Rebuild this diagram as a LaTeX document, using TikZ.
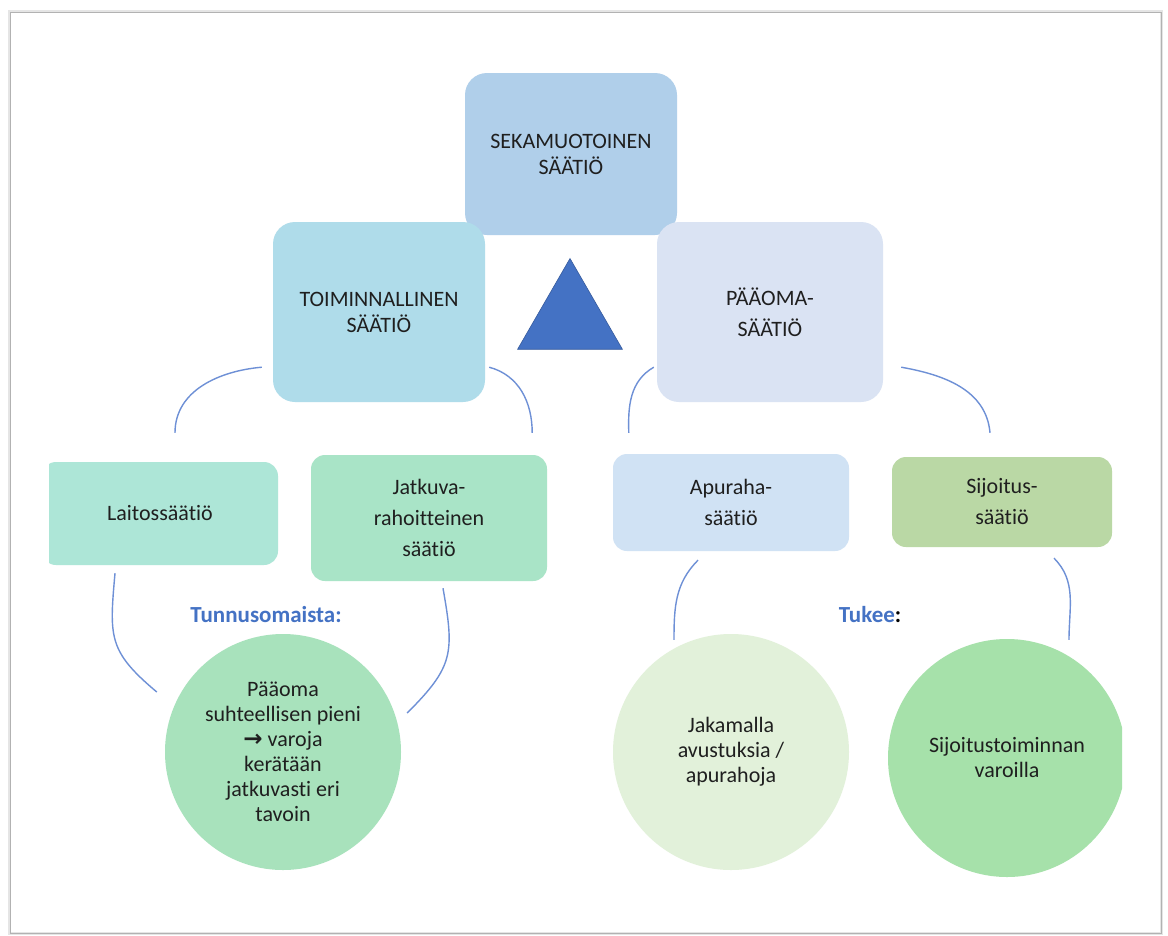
\documentclass[tikz,border=0pt]{standalone}
\usepackage{fontspec}
\setmainfont{Carlito}[Ligatures=NoCommon]
\newfontfamily\arrowfont{DejaVu Sans}
\usetikzlibrary{positioning, calc, shapes.geometric}

\definecolor{sekafill}{HTML}{B0CFEA}
\definecolor{toimfill}{HTML}{AFDCEA}
\definecolor{paaomafill}{HTML}{DAE3F3}
\definecolor{laitosfill}{HTML}{ADE6D7}
\definecolor{jatkuvafill}{HTML}{A9E4C7}
\definecolor{apurahafill}{HTML}{D0E2F4}
\definecolor{sijoitusfill}{HTML}{BAD8A5}
\definecolor{ringfill}{HTML}{A8E2BC}
\definecolor{paleringfill}{HTML}{E2F1DA}
\definecolor{greenringfill}{HTML}{A6E1AA}
\definecolor{tribl}{HTML}{4472C4}
\definecolor{linkblue}{HTML}{6E90D6}
\definecolor{tagblue}{HTML}{4472C4}

\tikzset{
    topbox/.style = {rectangle, rounded corners=22pt, align=center, inner sep=0pt, font=\fontsize{22}{26}\selectfont},
    subbox/.style = {rectangle, rounded corners=14pt, align=center, inner sep=0pt, font=\fontsize{22}{31}\selectfont},
    ball/.style = {circle, inner sep=0pt, minimum size=236pt, align=center, font=\fontsize{22}{25}\selectfont},
    tri/.style = {regular polygon, regular polygon sides=3, minimum size=121pt, inner sep=0pt, fill=tribl, draw=tribl!80!black, line width=0.6pt},
    link/.style = {draw=linkblue, line width=1.4pt},
    tag/.style = {text=tagblue, font=\fontsize{23}{27}\selectfont\bfseries}
}

\begin{document}
\begin{tikzpicture}[x=1pt, y=-1pt, every node/.style={text=black!88}]
\useasboundingbox (0,0) rectangle (1168,935);

% Screenshot frame
\draw[black!10, line width=4pt] (10,12) rectangle (1161,933);
\fill[white] (11,13) rectangle (1160,932);
\draw[black!30, line width=1pt] (10,12) rectangle (1161,933);

\begin{scope}
\clip (49,13) rectangle (1122,932);

% Top row
\node[topbox, fill=sekafill, minimum width=212pt, minimum height=162pt] (seka) at (571,154) {SEKAMUOTOINEN\\SÄÄTIÖ};
\node[topbox, fill=toimfill, minimum width=212pt, minimum height=180pt] (toim) at (379,312) {TOIMINNALLINEN\\SÄÄTIÖ};
\node[topbox, fill=paaomafill, minimum width=226pt, minimum height=180pt, font=\fontsize{22}{31}\selectfont] (paaoma) at (770,312) {PÄÄOMA-\\SÄÄTIÖ};
\node[tri] (tri) at (570,319) {};

% Middle row
\node[subbox, fill=laitosfill, minimum width=236pt, minimum height=103pt] (laitos) at (160,513.5) {Laitossäätiö};
\node[subbox, fill=jatkuvafill, minimum width=236pt, minimum height=126pt] (jatkuva) at (429,518) {Jatkuva-\\rahoitteinen\\säätiö};
\node[subbox, fill=apurahafill, minimum width=236pt, minimum height=97pt] (apuraha) at (731,502.5) {Apuraha-\\säätiö};
\node[subbox, fill=sijoitusfill, minimum width=220pt, minimum height=90pt] (sijoitus) at (1002,502) {Sijoitus-\\säätiö};

% Labels
\node[tag] (tunnus) at (266,615) {Tunnusomaista:};
\node[tag] (tukee) at (870,615) {Tukee\textcolor{black}{:}};

% Bottom row
\node[ball, fill=ringfill] (ringL) at (283,752) {Pääoma\\suhteellisen pieni\\{\arrowfont\bfseries\fontsize{23}{25}\selectfont →} varoja\\kerätään\\jatkuvasti eri\\tavoin};
\node[ball, fill=paleringfill] (jakamalla) at (731,752) {Jakamalla\\avustuksia /\\apurahoja};
\node[ball, fill=greenringfill, minimum size=238pt] (sijtoim) at (1007,758) {Sijoitustoiminnan\\varoilla};

% Arc ends
\coordinate (toimL) at ($(toim.south west)+(-11,-35)$);
\coordinate (laitosT) at ($(laitos.north)+(15,-29)$);
\coordinate (toimR) at ($(toim.south east)+(4,-35)$);
\coordinate (jatkuvaT) at ($(jatkuva.north east)+(-15,-22)$);
\coordinate (paaomaL) at ($(paaoma.south west)+(-3,-35)$);
\coordinate (apurahaT) at ($(apuraha.north west)+(16,-21)$);
\coordinate (paaomaR) at ($(paaoma.south east)+(18,-35)$);
\coordinate (sijoitusT) at ($(sijoitus.north)+(-12,-24)$);

\coordinate (laitosB) at ($(laitos.south)+(-45,8)$);
\coordinate (ringLa) at ($(ringL.west)+(-8,-60)$);
\coordinate (jatkuvaB) at ($(jatkuva.south)+(14,7)$);
\coordinate (ringLb) at ($(ringL.east)+(6,-39)$);
\coordinate (apurahaB) at ($(apuraha.south)+(-33,9)$);
\coordinate (jakamallaT) at ($(jakamalla.north)+(-57,6)$);
\coordinate (sijoitusB) at ($(sijoitus.south)+(52,11)$);
\coordinate (sijtoimT) at ($(sijtoim.north)+(62,1)$);

% Upper arcs
\draw[link] (toimL) to[out=185, in=90] (laitosT);
\draw[link] (toimR) to[out=-15, in=90] (jatkuvaT);
\draw[link] (paaomaL) to[out=210, in=92] (apurahaT);
\draw[link] (paaomaR) to[out=-10, in=95] (sijoitusT);

% Lower arcs
\draw[link] (laitosB) to[out=265, in=140, looseness=1.3] (ringLa);
\draw[link] (jatkuvaB) to[out=280, in=45, looseness=1.3] (ringLb);
\draw[link] (apurahaB) to[out=225, in=90] (jakamallaT);
\draw[link] (sijoitusB) to[out=-45, in=90] (sijtoimT);
\end{scope}
\end{tikzpicture}
\end{document}
